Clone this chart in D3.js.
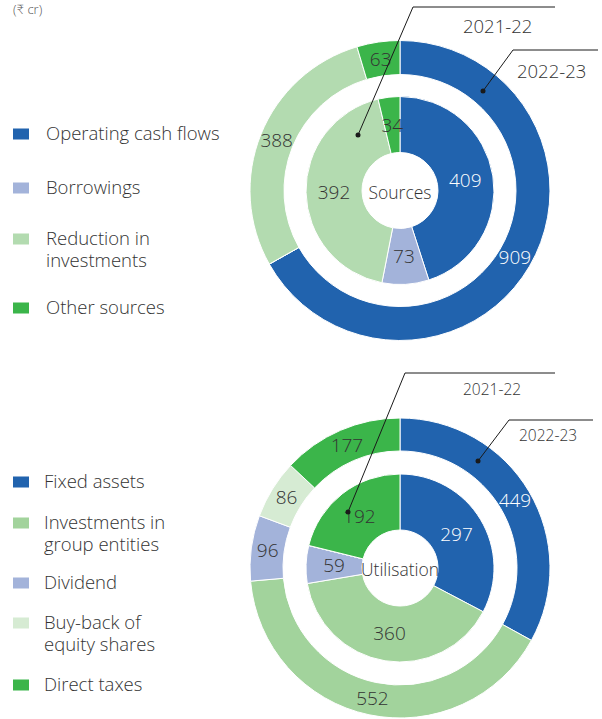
<!DOCTYPE html>
<html><head><meta charset="utf-8">
<script src="https://cdn.jsdelivr.net/npm/d3@7/dist/d3.min.js"></script>
<style>
html,body{margin:0;padding:0;background:#fff;}
svg{display:block;font-family:"Open Sans",Lato,sans-serif;font-weight:300;}
</style></head>
<body>
<svg id="chart" width="602" height="719"></svg>
<script>
// ---- data ----
const sourceCategories = ["Operating cash flows", "Borrowings", "Reduction in investments", "Other sources"];
const sourceLegendLines = [["Operating cash flows"], ["Borrowings"], ["Reduction in", "investments"], ["Other sources"]];
const sources2122 = [409, 73, 392, 34];
const sources2223 = [909, 0, 388, 63];
const sourceColors = ["#2163ae", "#a3b3da", "#b3dbb0", "#3bb54a"];

const utilCategories = ["Fixed assets", "Investments in group entities", "Dividend", "Buy-back of equity shares", "Direct taxes"];
const utilLegendLines = [["Fixed assets"], ["Investments in", "group entities"], ["Dividend"], ["Buy-back of", "equity shares"], ["Direct taxes"]];
const util2122 = [297, 360, 59, 0, 192];
const util2223 = [449, 552, 96, 86, 177];
const utilColors = ["#2163ae", "#a2d39c", "#a3b3da", "#d6ebd3", "#3bb54a"];

const yearLabels = ["2021-22", "2022-23"];
const unitLabel = "(₹ cr)";

// ---- drawing ----
const svg = d3.select("#chart");
const textColor = "#333";

svg.append("text").attr("x", 13).attr("y", 14).attr("font-size", 13)
  .attr("fill", "#555").text(unitLabel);

const pie = d3.pie().sort(null).value(d => d);

function donut(cx, cy, inner, outer, colors, centerText, rOuterIn, annot, fs) {
  const g = svg.append("g").attr("transform", `translate(${cx},${cy})`);
  const arcIn = d3.arc().innerRadius(38).outerRadius(94);
  const arcOut = d3.arc().innerRadius(rOuterIn).outerRadius(150);
  const rings = [[inner, arcIn], [outer, arcOut]];
  rings.forEach(([vals, arc]) => {
    const arcs = pie(vals);
    g.selectAll(null).data(arcs).enter().append("path")
      .attr("d", arc).attr("fill", (d, i) => colors[i])
      .attr("stroke", "#fff").attr("stroke-width", 1);
    g.selectAll(null).data(arcs.filter(d => d.value > 0)).enter().append("text")
      .attr("transform", d => `translate(${arc.centroid(d)})`)
      .attr("text-anchor", "middle").attr("dy", "0.35em")
      .attr("font-size", 19)
      .attr("fill", d => colors[d.index] === "#2163ae" ? "#fff" : textColor)
      .text(d => d.value);
  });
  g.append("text").attr("text-anchor", "middle").attr("dy", "0.35em")
    .attr("y", 2).attr("font-size", 17.5).attr("fill", textColor).text(centerText);

  // annotations
  annot.forEach((a, k) => {
    svg.append("polyline")
      .attr("points", [[a.dot[0], a.dot[1]], [a.elbow[0], a.elbow[1]], [a.end, a.elbow[1]]].map(p => p.join(",")).join(" "))
      .attr("fill", "none").attr("stroke", "#1a1a1a").attr("stroke-width", 1);
    svg.append("circle").attr("cx", a.dot[0]).attr("cy", a.dot[1]).attr("r", 2.5).attr("fill", "#1a1a1a");
    svg.append("text").attr("x", a.tx).attr("y", a.ty).attr("font-size", fs)
      .attr("fill", textColor).text(yearLabels[k]);
  });
}

function legend(lines, colors, rows, textX) {
  lines.forEach((ls, i) => {
    svg.append("rect").attr("x", 13).attr("y", rows[i] - 5.5).attr("width", 16).attr("height", 11)
      .attr("fill", colors[i]);
    const t = svg.append("text").attr("x", textX).attr("y", rows[i])
      .attr("font-size", 18.5).attr("fill", textColor);
    ls.forEach((line, j) => {
      t.append("tspan").attr("x", textX).attr("dy", j === 0 ? "0.35em" : 22).text(line);
    });
  });
}

donut(400, 190.5, sources2122, sources2223, sourceColors, "Sources", 116, [
  {dot: [358, 135], elbow: [413, 7], end: 555, tx: 463, ty: 33},
  {dot: [483, 91], elbow: [513, 50], end: 598, tx: 517, ty: 78}
], 18.5);
legend(sourceLegendLines, sourceColors, [134, 188, 239, 308], 46);

donut(400, 568, util2122, util2223, utilColors, "Utilisation", 117, [
  {dot: [348, 512], elbow: [405, 373], end: 555, tx: 463, ty: 395},
  {dot: [478, 461], elbow: [509, 420], end: 593, tx: 519, ty: 441}
], 15.5);
legend(utilLegendLines, utilColors, [482, 523, 583, 623, 685], 44);
</script>
</body></html>
